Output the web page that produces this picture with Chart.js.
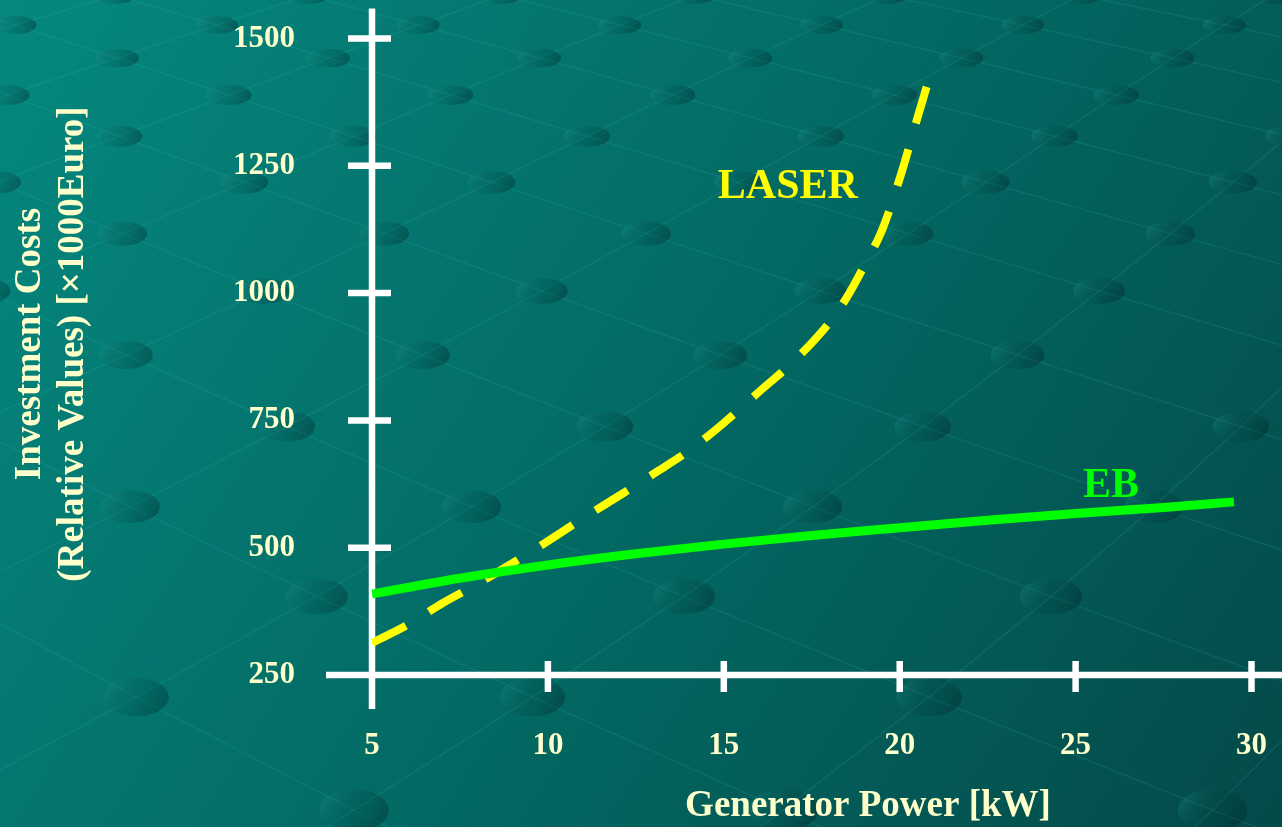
<!DOCTYPE html>
<html>
<head>
<meta charset="utf-8">
<title>Investment Costs vs Generator Power</title>
<script src="https://cdn.jsdelivr.net/npm/chart.js@4.4.1/dist/chart.umd.min.js"></script>
<style>
  html, body { margin: 0; padding: 0; background: #04695f; }
  canvas { display: block; }
</style>
</head>
<body>
<canvas id="chart" width="1282" height="827"></canvas>
<script>
// ---- data ----
const xTicks = [5, 10, 15, 20, 25, 30];
const yTicks = [250, 500, 750, 1000, 1250, 1500];

const laserPower = [5, 6, 7, 8, 9, 10, 11, 12, 13, 14, 15, 16, 17, 18, 18.5, 19, 19.5, 20, 20.5, 20.8];
const laserCost  = [313, 348, 391, 429, 470, 513, 558, 601, 645, 690, 745, 806, 867, 942, 992, 1055, 1124, 1225, 1343, 1413];

const ebPower = [5, 7.5, 10, 12.5, 15, 17.5, 20, 22.5, 25, 27.5, 29.5];
const ebCost  = [409, 440, 466, 488, 507, 524, 539, 554, 567, 579, 590];

const seriesNames = ['LASER', 'EB'];
const xTitle = 'Generator Power [kW]';
const yTitle = ['Investment Costs', '(Relative Values) [\u00d71000Euro]'];

const SERIF = '"Liberation Serif", "Times New Roman", serif';
const CREAM = '#FFFFCC';

const toPoints = (xs, ys) => xs.map((x, i) => ({ x, y: ys[i] }));

// ---- slide background: teal gradient with a perspective lattice of discs ----
const backdrop = {
  id: 'backdrop',
  beforeDraw(chart) {
    const { ctx, width: W, height: H } = chart;
    ctx.save();
    const g = ctx.createLinearGradient(0, 0, W, H);
    g.addColorStop(0, '#05887f');
    g.addColorStop(0.5, '#036a64');
    g.addColorStop(1, '#034a49');
    ctx.fillStyle = g;
    ctx.fillRect(0, 0, W, H);

    const vx = 95, vy = -670;
    const node = (k, m) => {
      const d = 695 * Math.exp(0.045 * k + 0.0015 * k * k);
      const a = 0.03 + 0.145 * m;
      return { x: vx + d * a, y: vy + d };
    };
    const K0 = -1, K1 = 13, M0 = -6, M1 = 18;
    // lattice threads
    ctx.strokeStyle = 'rgba(70,200,190,0.13)';
    ctx.lineWidth = 1.5;
    for (let k = K0; k < K1; k++) {
      for (let m = M0; m <= M1; m++) {
        if (((m + k) % 2 + 2) % 2 !== 1) continue;
        const p = node(k, m);
        for (const dm of [-1, 1]) {
          const q = node(k + 1, m + dm);
          ctx.beginPath();
          ctx.moveTo(p.x, p.y);
          ctx.lineTo(q.x, q.y);
          ctx.stroke();
        }
      }
    }
    // discs
    for (let k = K0; k <= K1; k++) {
      for (let m = M0; m <= M1; m++) {
        if (((m + k) % 2 + 2) % 2 !== 1) continue;
        const p = node(k, m);
        if (p.x < -80 || p.x > W + 80 || p.y < -40 || p.y > H + 40) continue;
        const w = 42 + 0.034 * p.y, h = 17 + 0.031 * p.y;
        const eg = ctx.createLinearGradient(p.x - w / 2, p.y - h / 2, p.x + w / 2, p.y + h / 2);
        eg.addColorStop(0, 'rgba(40,170,160,0.32)');
        eg.addColorStop(0.45, 'rgba(0,60,60,0.16)');
        eg.addColorStop(1, 'rgba(0,25,30,0.40)');
        ctx.fillStyle = eg;
        ctx.beginPath();
        ctx.ellipse(p.x, p.y, w / 2, h / 2, 0, 0, Math.PI * 2);
        ctx.fill();
      }
    }
    ctx.restore();
  }
};

// ---- white axes with cross-shaped ticks ----
const crossAxes = {
  id: 'crossAxes',
  beforeDatasetsDraw(chart) {
    const { ctx, width: W } = chart;
    const xs = chart.scales.x, ys = chart.scales.y;
    const x0 = xs.getPixelForValue(xTicks[0]);
    const y0 = ys.getPixelForValue(yTicks[0]);
    const yTop = ys.getPixelForValue(yTicks[yTicks.length - 1]);
    ctx.save();
    ctx.strokeStyle = '#FFFFFF';
    ctx.lineWidth = 6.5;
    ctx.lineCap = 'butt';
    ctx.beginPath();
    ctx.moveTo(x0, yTop - 30);
    ctx.lineTo(x0, y0 + 34);
    ctx.moveTo(x0 - 46, y0);
    ctx.lineTo(W, y0);
    yTicks.slice(1).forEach(v => {
      const y = ys.getPixelForValue(v);
      ctx.moveTo(x0 - 24, y);
      ctx.lineTo(x0 + 19, y);
    });
    xTicks.slice(1).forEach(v => {
      const x = xs.getPixelForValue(v);
      ctx.moveTo(x, y0 - 14);
      ctx.lineTo(x, y0 + 17);
    });
    ctx.stroke();
    ctx.restore();
  }
};

// ---- axis titles and series names ----
const captions = {
  id: 'captions',
  afterDraw(chart, args, opts) {
    const { ctx } = chart;
    const xs = chart.scales.x, ys = chart.scales.y;
    ctx.save();
    ctx.fillStyle = CREAM;
    ctx.font = 'bold 37px ' + SERIF;
    ctx.textAlign = 'center';
    ctx.textBaseline = 'middle';
    ctx.fillText(xTitle, 868, 806);

    ctx.save();
    ctx.translate(30, 344);
    ctx.rotate(-Math.PI / 2);
    yTitle.forEach((line, i) => ctx.fillText(line, 0, i * 43));
    ctx.restore();

    ctx.font = 'bold 42px ' + SERIF;
    ctx.textAlign = 'left';
    ctx.textBaseline = 'alphabetic';
    opts.tags.forEach(t => {
      ctx.fillStyle = t.color;
      ctx.fillText(t.text, xs.getPixelForValue(t.x), ys.getPixelForValue(t.y));
    });
    ctx.restore();
  }
};

const tickFont = { family: SERIF, size: 31, weight: 'bold' };

new Chart(document.getElementById('chart'), {
  type: 'line',
  data: {
    datasets: [
      {
        label: seriesNames[1],
        data: toPoints(ebPower, ebCost),
        borderColor: '#00FF00',
        borderWidth: 9,
        borderCapStyle: 'butt',
        pointRadius: 0,
        cubicInterpolationMode: 'monotone',
        fill: false,
        order: 0
      },
      {
        label: seriesNames[0],
        data: toPoints(laserPower, laserCost),
        borderColor: '#FFFF00',
        borderWidth: 8,
        borderDash: [38, 27],
        borderCapStyle: 'butt',
        pointRadius: 0,
        cubicInterpolationMode: 'monotone',
        fill: false,
        order: 1
      }
    ]
  },
  options: {
    responsive: false,
    devicePixelRatio: 1,
    animation: false,
    events: [],
    layout: { padding: { left: 0, right: 30.5, top: 38.5, bottom: 0 } },
    plugins: {
      legend: { display: false },
      tooltip: { enabled: false },
      captions: {
        tags: [
          { text: seriesNames[0], x: 14.83, y: 1187, color: '#FFFF00' },
          { text: seriesNames[1], x: 25.21, y: 600, color: '#00FF00' }
        ]
      }
    },
    scales: {
      x: {
        type: 'linear',
        min: xTicks[0],
        max: xTicks[xTicks.length - 1],
        afterBuildTicks: s => { s.ticks = xTicks.map(v => ({ value: v })); },
        afterFit: s => { s.height = 152; s.paddingLeft = 0; s.paddingRight = 0; },
        ticks: { font: tickFont, color: CREAM, padding: 52, maxRotation: 0, callback: v => String(v) },
        grid: { display: false, drawTicks: false },
        border: { display: false }
      },
      y: {
        type: 'linear',
        min: yTicks[0],
        max: yTicks[yTicks.length - 1],
        afterBuildTicks: s => { s.ticks = yTicks.map(v => ({ value: v })); },
        afterFit: s => { s.width = 372; s.paddingTop = 0; s.paddingBottom = 0; },
        ticks: { font: tickFont, color: CREAM, padding: 77, callback: v => String(v) },
        grid: { display: false, drawTicks: false },
        border: { display: false }
      }
    }
  },
  plugins: [backdrop, crossAxes, captions]
});
</script>
</body>
</html>
